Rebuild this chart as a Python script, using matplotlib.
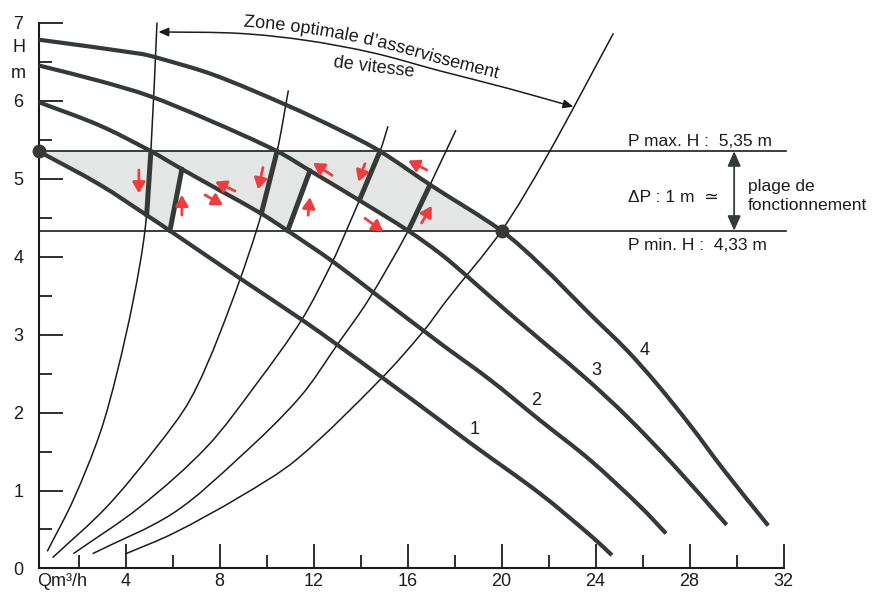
import numpy as np
import matplotlib.pyplot as plt
from matplotlib.path import Path
from matplotlib.patches import FancyArrowPatch, Polygon, PathPatch
from matplotlib.font_manager import FontProperties
from matplotlib.textpath import TextPath
from matplotlib.transforms import Affine2D

plt.rcParams['font.family'] = ['Liberation Sans', 'DejaVu Sans']

# pump curves 1..4 : Q (m3/h) , H (m)
q1 = [0.3, 2.91, 4.90, 5.89, 8.87, 11.5, 13.0, 14.96, 17.38, 18.8, 21.64, 23.84, 24.7]
h1 = [5.35, 4.92, 4.53, 4.33, 3.72, 3.19, 2.87, 2.44, 1.90, 1.58, 0.96, 0.41, 0.17]
q2 = [0.3, 2.9, 5.08, 6.40, 8.0, 9.78, 10.9, 12.8, 14.5, 17.38, 19.51, 21.64, 23.77, 25.89, 27.0]
h2 = [5.98, 5.68, 5.35, 5.12, 4.85, 4.55, 4.33, 3.94, 3.55, 2.89, 2.42, 1.90, 1.39, 0.80, 0.45]
q3 = [0.3, 2.9, 5.0, 7.46, 10.45, 11.85, 13.95, 16.03, 17.38, 18.45, 20.22, 22.06, 23.62, 25.33, 27.31, 29.58]
h3 = [6.45, 6.25, 6.06, 5.76, 5.35, 5.10, 4.72, 4.33, 4.04, 3.77, 3.30, 2.83, 2.43, 1.95, 1.33, 0.56]
q4 = [0.3, 4.62, 5.33, 7.74, 10.86, 13.13, 14.83, 16.96, 20.0, 21.64, 23.77, 25.33, 26.6, 28.02, 29.44, 31.35]
h4 = [6.78, 6.60, 6.55, 6.33, 5.94, 5.62, 5.35, 4.92, 4.33, 3.90, 3.26, 2.80, 2.37, 1.84, 1.27, 0.55]

# thin system curves A..E
qa = [0.67, 1.78, 2.91, 3.63, 4.33, 4.83, 5.08, 5.34]
ha = [0.22, 0.88, 1.73, 2.50, 3.44, 4.34, 5.35, 7.0]
qb = [0.90, 3.20, 5.33, 6.74, 8.02, 9.58, 10.45, 10.93]
hb = [0.14, 0.79, 1.56, 2.16, 3.02, 4.34, 5.35, 6.13]
qc = [1.78, 4.62, 7.46, 9.58, 11.5, 12.77, 13.41, 14.83, 15.17]
hc = [0.19, 0.79, 1.56, 2.37, 3.19, 3.91, 4.34, 5.35, 5.67]
qd = [2.60, 6.03, 8.87, 11.43, 13.06, 14.33, 16.03, 16.96, 18.06]
hd = [0.19, 0.71, 1.43, 2.20, 2.89, 3.44, 4.33, 4.92, 5.62]
qe = [4.02, 6.03, 8.87, 11.29, 14.9, 16.67, 17.67, 20.0, 21.92, 24.76]
he = [0.19, 0.45, 0.92, 1.40, 2.44, 3.04, 3.44, 4.33, 5.28, 6.86]

p_max = 5.35
p_min = 4.33
dot_q = 20.0

# operating cells (corners)
quad_tl_q = [5.08, 10.45, 14.83]
quad_bl_q = [4.90, 9.78, 13.95]
quad_bl_h = [4.53, 4.55, 4.72]
quad_br_q = [5.89, 10.9, 16.03]
quad_tr_q = [6.40, 11.85, 16.96]
quad_tr_h = [5.12, 5.10, 4.92]

# red arrows: tail -> head
arr_tq = [4.57, 6.40, 8.66, 7.38, 9.85, 11.77, 12.79, 14.19, 16.82, 14.19, 16.60]
arr_th = [5.11, 4.53, 4.84, 4.79, 5.14, 4.53, 5.04, 5.19, 5.11, 4.49, 4.43]
arr_hq = [4.57, 6.40, 7.81, 8.15, 9.64, 11.85, 11.98, 13.91, 16.03, 14.97, 17.03]
arr_hh = [4.81, 4.79, 4.96, 4.66, 4.86, 4.76, 5.20, 4.96, 5.23, 4.32, 4.65]

# "zone optimale" arc
arc_q = [5.40, 8.87, 11.71, 14.55, 17.38, 20.22, 23.06]
arc_h = [6.88, 6.86, 6.77, 6.61, 6.38, 6.16, 5.92]
arc_text = 'Zone optimale d\u2019asservissement'

curve_labels = ['1', '2', '3', '4']
label_q = [18.87, 21.47, 24.02, 26.11]
label_h = [1.78, 2.15, 2.54, 2.80]

x_major = [4, 8, 12, 16, 20, 24, 28, 32]
x_minor = [2, 6, 10, 14, 18, 22, 26, 30]
y_major = [0, 1, 2, 3, 4, 5, 6, 7]
y_minor = [0.5, 1.5, 2.5, 3.5, 4.5, 5.5, 6.5]

dark = '#353a37'
ink = '#1c1c1c'
red = '#f03c3c'

fig = plt.figure(figsize=(8.79, 5.95), dpi=100)
ax = fig.add_axes([0.04386, 0.04454, 0.8876, 0.9504])
ax.set_xlim(0.3, 33.5)
ax.set_ylim(0, 7.25)


def smooth_path(q, h):
    # cubic bezier through the read points (chord-length tangents)
    p = np.column_stack([q, h]).astype(float)
    s = p * [23.5, 78.0]
    t = np.concatenate([[0], np.cumsum(np.hypot(*np.diff(s, axis=0).T))])
    n = len(p)
    m = np.zeros_like(p)
    for i in range(n):
        lo, hi = max(i - 1, 0), min(i + 1, n - 1)
        m[i] = (p[hi] - p[lo]) / (t[hi] - t[lo])
    verts = [p[0]]
    codes = [Path.MOVETO]
    for i in range(n - 1):
        dt = t[i + 1] - t[i]
        verts += [p[i] + m[i] * dt / 3, p[i + 1] - m[i + 1] * dt / 3, p[i + 1]]
        codes += [Path.CURVE4] * 3
    return Path(verts, codes)


def sample_path(path, n=60):
    v = path.vertices
    out = [v[0]]
    tt = np.linspace(0, 1, n)[1:, None]
    for i in range(1, len(v), 3):
        p0, c1, c2, p3 = v[i - 1], v[i], v[i + 1], v[i + 2]
        out.extend((1 - tt) ** 3 * p0 + 3 * (1 - tt) ** 2 * tt * c1
                   + 3 * (1 - tt) * tt ** 2 * c2 + tt ** 3 * p3)
    return np.array(out)


def draw_curve(q, h, **kw):
    ax.add_patch(PathPatch(smooth_path(q, h), fill=False, **kw))


def between(q, h, lo, hi):
    q = np.asarray(q)
    h = np.asarray(h)
    m = (q > lo) & (q < hi)
    return list(zip(q[m], h[m]))


# shaded operating band
verts = [(q1[0], p_max), (quad_tl_q[2], p_max)]
verts += between(q4, h4, quad_tl_q[2], dot_q)
verts += [(dot_q, p_min), (quad_br_q[2], p_min)]
verts += between(q3, h3, quad_tr_q[1], quad_br_q[2])[::-1]
verts += [(quad_tr_q[1], quad_tr_h[1]), (quad_br_q[1], p_min)]
verts += between(q2, h2, quad_tr_q[0], quad_br_q[1])[::-1]
verts += [(quad_tr_q[0], quad_tr_h[0]), (quad_br_q[0], p_min)]
verts += between(q1, h1, q1[0], quad_br_q[0])[::-1]
ax.add_patch(Polygon(verts, closed=True, facecolor='#e4e6e6', edgecolor='none', zorder=1))

# horizontal limits
ax.plot([0.3, 32.1], [p_max, p_max], color=ink, lw=1.2, zorder=2)
ax.plot([0.3, 32.1], [p_min, p_min], color=ink, lw=1.2, zorder=2)

# thin system curves
for q, h in [(qa, ha), (qb, hb), (qc, hc), (qd, hd), (qe, he)]:
    draw_curve(q, h, edgecolor=ink, lw=1.1, zorder=3)

# pump curves
for q, h in [(q1, h1), (q2, h2), (q3, h3), (q4, h4)]:
    draw_curve(q, h, edgecolor=dark, lw=3.0, capstyle='butt', joinstyle='round', zorder=4)

# cell sides
for i in range(3):
    ax.plot([quad_tl_q[i], quad_bl_q[i]], [p_max, quad_bl_h[i]], color=dark, lw=3.6,
            solid_capstyle='round', zorder=5)
    ax.plot([quad_br_q[i], quad_tr_q[i]], [p_min, quad_tr_h[i]], color=dark, lw=3.6,
            solid_capstyle='round', zorder=5)

# red direction arrows
for tq, th, hq, hh in zip(arr_tq, arr_th, arr_hq, arr_hh):
    ax.annotate('', xy=(hq, hh), xytext=(tq, th),
                arrowprops=dict(arrowstyle='-|>,head_length=0.65,head_width=0.38',
                                color=red, lw=2.0, shrinkA=0, shrinkB=0), zorder=6)

ax.plot([q1[0], dot_q], [p_max, p_min], 'o', ms=9, color=dark, zorder=7, clip_on=False)

for t, q, h in zip(curve_labels, label_q, label_h):
    ax.text(q, h, t, fontsize=13, color=ink, ha='center', va='center')

# arc arrow for the optimal zone
arc_path = smooth_path(arc_q, arc_h)
ax.add_patch(FancyArrowPatch(path=arc_path, arrowstyle='<|-|>,head_length=6,head_width=2.6',
                             color=ink, lw=1.1, zorder=5))

# text following the arc, glyphs as paths so they sit smoothly on the curve
renderer = fig.canvas.get_renderer()
fp = FontProperties(family=['Liberation Sans', 'DejaVu Sans'], size=13)
size_px = 13 * fig.dpi / 72
w_nn = renderer.get_text_width_height_descent('nn', fp, ismath=False)[0]
pts = ax.transData.transform(sample_path(arc_path))
cum = np.concatenate([[0], np.cumsum(np.hypot(*np.diff(pts, axis=0).T))])
s = np.interp(243, pts[:, 0], cum)
for ch in arc_text:
    w = renderer.get_text_width_height_descent('n' + ch + 'n', fp, ismath=False)[0] - w_nn
    sc = s + w / 2
    x = np.interp(sc, cum, pts[:, 0])
    y = np.interp(sc, cum, pts[:, 1])
    dx = np.interp(sc + 4, cum, pts[:, 0]) - np.interp(sc - 4, cum, pts[:, 0])
    dy = np.interp(sc + 4, cum, pts[:, 1]) - np.interp(sc - 4, cum, pts[:, 1])
    ang = np.arctan2(dy, dx)
    off = 7
    if ch.strip():
        tp = TextPath((0, 0), ch, size=size_px, prop=fp)
        tr = (Affine2D().translate(-w / 2, 0).rotate(ang)
              .translate(x - np.sin(ang) * off, y + np.cos(ang) * off))
        glyph = PathPatch(tp, transform=tr, facecolor=ink, edgecolor='none', zorder=6)
        glyph.set_clip_on(False)
        ax.add_patch(glyph)
    s += w
ax.text(14.57, 6.42, 'de vitesse', fontsize=13, rotation=-7, ha='center', va='center', color=ink)

# right hand annotations
ax.annotate('', xy=(29.9, p_max), xytext=(29.9, p_min),
            arrowprops=dict(arrowstyle='<|-|>,head_length=0.9,head_width=0.4',
                            color=dark, lw=1.3, shrinkA=0, shrinkB=0))
ax.text(25.38, 5.47, 'P max. H :  5,35 m', fontsize=12.5, va='center', color=ink)
ax.text(25.38, 4.76, '\u0394P : 1 m  \u2243', fontsize=12.5, va='center', color=ink)
ax.text(25.38, 4.14, 'P min. H :  4,33 m', fontsize=12.5, va='center', color=ink)
ax.text(30.49, 4.90, 'plage de', fontsize=12.5, va='center', color=ink)
ax.text(30.49, 4.66, 'fonctionnement', fontsize=12.5, va='center', color=ink)

# axes
for sp in ['top', 'right']:
    ax.spines[sp].set_visible(False)
ax.spines['left'].set_bounds(0, 7)
ax.spines['bottom'].set_bounds(0.3, 32)
for sp in ['left', 'bottom']:
    ax.spines[sp].set_linewidth(1.5)
    ax.spines[sp].set_color(ink)

ax.set_xticks(x_major)
ax.set_xticks(x_minor, minor=True)
ax.set_yticks(y_major)
ax.set_yticks(y_minor, minor=True)
ax.set_xticklabels([str(v) for v in x_major], family=['Liberation Sans Narrow', 'Liberation Sans'])
ax.tick_params(which='major', direction='in', length=17, width=1.3, color=ink, labelsize=13,
               labelcolor=ink)
ax.tick_params(which='minor', direction='in', length=9.5, width=1.3, color=ink)
ax.tick_params(axis='y', which='major', pad=11)
ax.tick_params(axis='x', which='major', pad=3)

ax.annotate('Qm\u00b3/h', xy=(1.3, 0), xycoords=('data', 'axes fraction'), xytext=(0, -3),
            textcoords='offset points', ha='center', va='top', fontsize=13, color=ink,
            family=['Liberation Sans Narrow', 'Liberation Sans'])
ax.text(-0.55, 6.68, 'H', fontsize=13, ha='center', va='center', color=ink, clip_on=False)
ax.text(-0.55, 6.35, 'm', fontsize=13, ha='center', va='center', color=ink, clip_on=False)

fig.savefig('out.png', dpi=100)
